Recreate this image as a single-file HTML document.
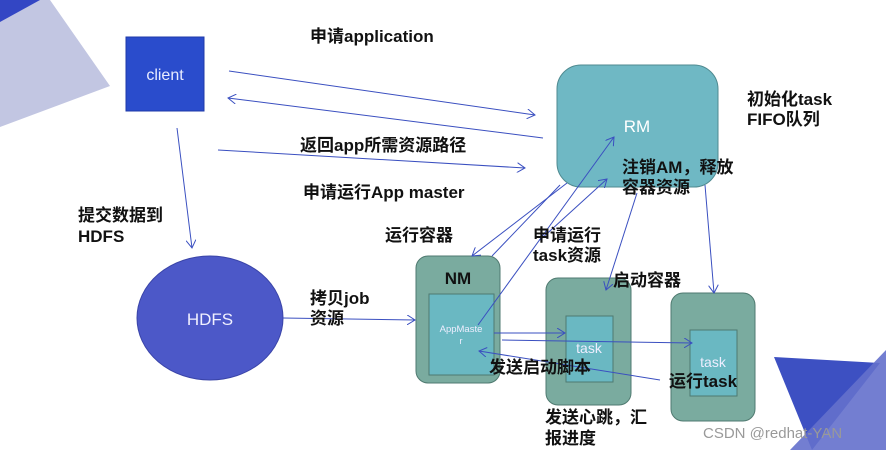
<!DOCTYPE html>
<html><head><meta charset="utf-8"><style>
body{margin:0;width:886px;height:450px;overflow:hidden;background:#fff;font-family:"Liberation Sans","Noto Sans CJK SC",sans-serif}
svg{position:absolute;left:0;top:0}
.t{font-family:"Liberation Sans","Noto Sans CJK SC",sans-serif;font-size:17px;font-weight:bold;fill:#111}
</style></head><body>
<svg width="886" height="450" viewBox="0 0 886 450">
<defs><marker id="a" markerWidth="10" markerHeight="10" refX="8" refY="5" orient="auto" markerUnits="userSpaceOnUse"><path d="M0,0 L8,5 L0,10" fill="none" stroke="#3a4fc0" stroke-width="1"/></marker></defs>
<polygon points="0,0 50,0 110,86 0,127" fill="#c2c6e2"/>
<polygon points="0,0 40,0 0,22" fill="#3346c4"/>
<polygon points="774,357 880,363 812,450" fill="#3d50c2"/>
<polygon points="886,350 886,450 790,450" fill="#6470cc" opacity="0.9"/>
<rect x="126" y="37" width="78" height="74" fill="#2a4ccc" stroke="#1f3aa8"/>
<text x="165" y="80" text-anchor="middle" fill="#e8ecff" font-size="16">client</text>
<ellipse cx="210" cy="318" rx="73" ry="62" fill="#4c58c8" stroke="#3a44a8"/>
<text x="210" y="325" text-anchor="middle" fill="#f0f0ff" font-size="17">HDFS</text>
<rect x="557" y="65" width="161" height="122" rx="24" fill="#6fb8c4" stroke="#4f8a90"/>
<text x="637" y="132" text-anchor="middle" fill="#fff" font-size="17">RM</text>
<rect x="416" y="256" width="84" height="127" rx="12" fill="#7aab9f" stroke="#4f7a70"/>
<text x="458" y="284" text-anchor="middle" font-size="17" font-weight="bold" fill="#111">NM</text>
<rect x="429" y="294" width="65" height="81" fill="#6ab8c2" stroke="#4f7a70"/>
<text x="461" y="332" text-anchor="middle" fill="#eef" font-size="9.5">AppMaste</text>
<text x="461" y="344" text-anchor="middle" fill="#eef" font-size="9.5">r</text>
<rect x="546" y="278" width="85" height="127" rx="12" fill="#7aab9f" stroke="#4f7a70"/>
<rect x="566" y="316" width="47" height="66" fill="#6ab8c2" stroke="#4f7a70"/>
<text x="589" y="353" text-anchor="middle" fill="#eef" font-size="14">task</text>
<rect x="671" y="293" width="84" height="128" rx="12" fill="#7aab9f" stroke="#4f7a70"/>
<rect x="690" y="330" width="47" height="66" fill="#6ab8c2" stroke="#4f7a70"/>
<text x="713" y="367" text-anchor="middle" fill="#eef" font-size="14">task</text>
<g stroke="#3a4fc0" stroke-width="1" fill="none" marker-end="url(#a)">
<line x1="229" y1="71" x2="535" y2="115"/>
<line x1="543" y1="138" x2="228" y2="98"/>
<line x1="218" y1="150" x2="525" y2="168"/>
<line x1="177" y1="128" x2="192" y2="248"/>
<line x1="283" y1="318" x2="415" y2="320"/>
<line x1="567" y1="183" x2="472" y2="256"/>
<line x1="478" y1="325" x2="614" y2="137"/>
<line x1="540" y1="240" x2="607" y2="179"/>
<line x1="637" y1="193" x2="606" y2="290"/>
<line x1="705" y1="185" x2="714" y2="293"/>
<line x1="494" y1="333" x2="565" y2="333"/>
<line x1="502" y1="340" x2="692" y2="343"/>
<line x1="660" y1="380" x2="479" y2="351"/>
</g>
<line x1="492" y1="256" x2="560" y2="185" stroke="#3a4fc0"/>
<text class="t" x="310" y="42">申请application</text>
<text class="t" x="300" y="151">返回app所需资源路径</text>
<text class="t" x="303" y="198">申请运行App master</text>
<text class="t" x="78" y="221">提交数据到</text>
<text class="t" x="78" y="242">HDFS</text>
<text class="t" x="385" y="241">运行容器</text>
<text class="t" x="310" y="304">拷贝job</text>
<text class="t" x="310" y="324">资源</text>
<text class="t" x="533" y="241">申请运行</text>
<text class="t" x="533" y="261">task资源</text>
<text class="t" x="622" y="173">注销AM，释放</text>
<text class="t" x="622" y="193">容器资源</text>
<text class="t" x="747" y="105">初始化task</text>
<text class="t" x="747" y="125">FIFO队列</text>
<text class="t" x="613" y="286">启动容器</text>
<text class="t" x="489" y="373">发送启动脚本</text>
<text class="t" x="669" y="387">运行task</text>
<text class="t" x="545" y="423">发送心跳，汇</text>
<text class="t" x="545" y="444">报进度</text>
<text x="703" y="438" fill="#999" font-size="15">CSDN @redhat-YAN</text>
</svg>
</body></html>
